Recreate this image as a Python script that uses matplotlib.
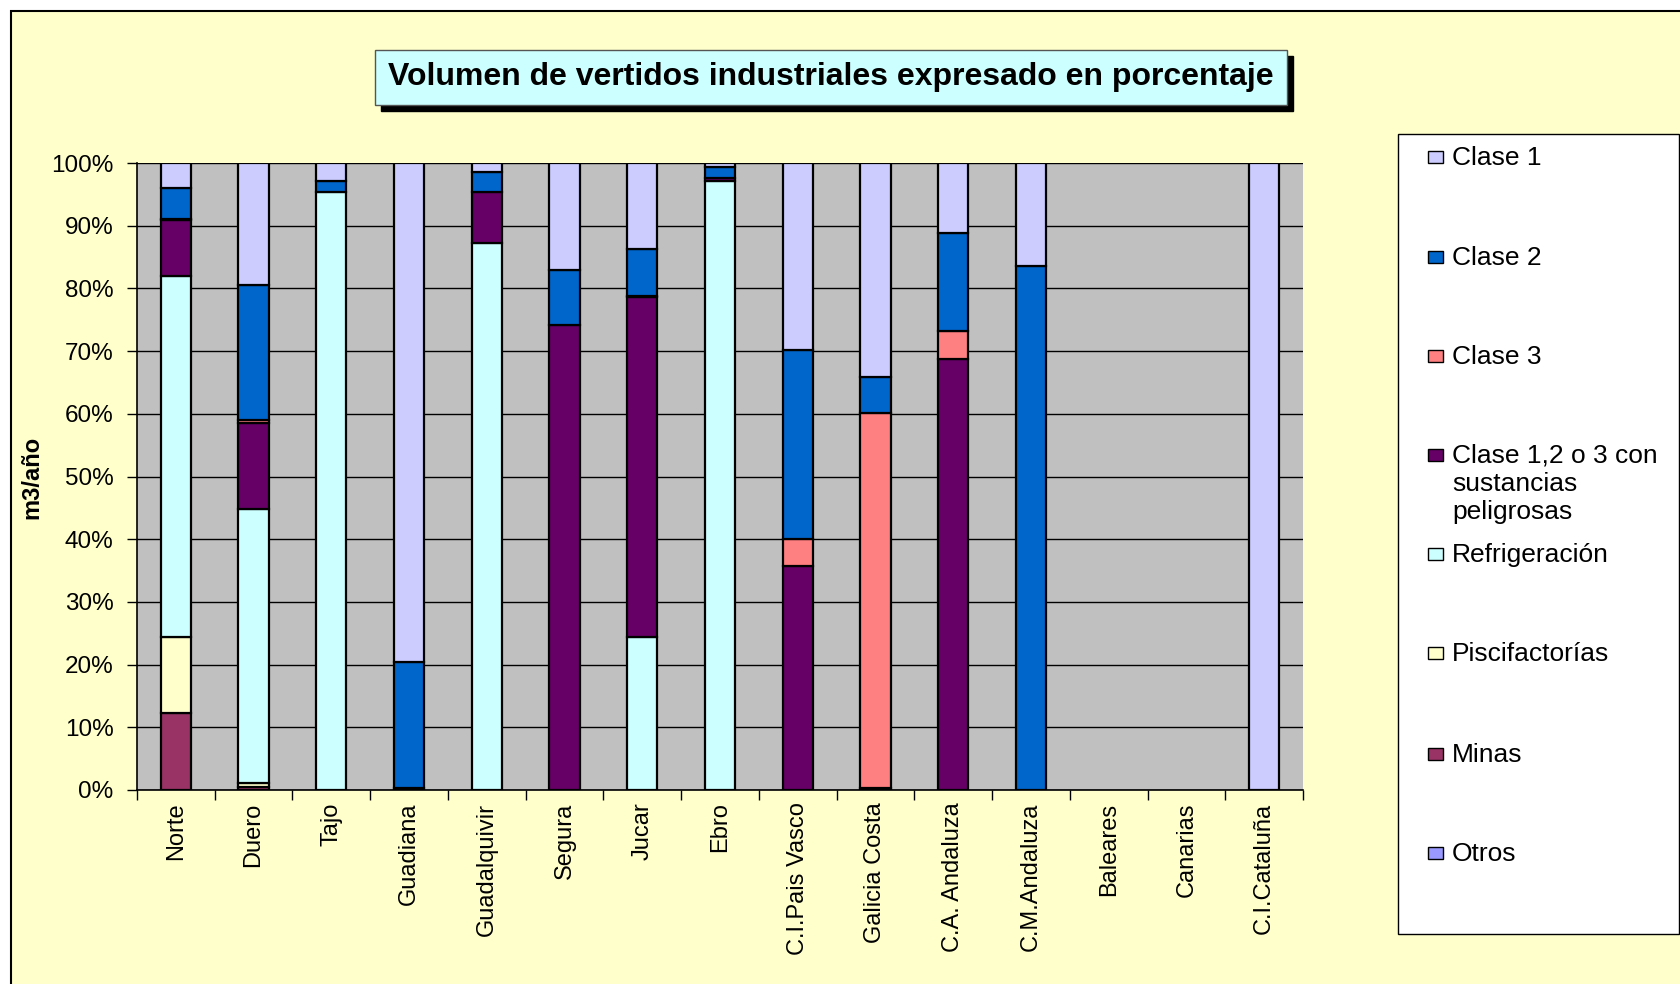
import matplotlib.pyplot as plt
import matplotlib.patches as mpatches
import numpy as np

plt.rcParams['font.family'] = ['Liberation Sans', 'DejaVu Sans']

categories = ["Norte", "Duero", "Tajo", "Guadiana", "Guadalquivir", "Segura", "Jucar",
              "Ebro", "C.I.Pais Vasco", "Galicia Costa", "C.A. Andaluza", "C.M.Andaluza",
              "Baleares", "Canarias", "C.I.Cataluña"]

# percentages, stacked bottom -> top
otros = [0, 0, 0, 0.3, 0, 0, 0, 0, 0, 0.3, 0, 0, 0, 0, 0]
minas = [12.3, 0.4, 0, 0, 0, 0, 0, 0, 0, 0, 0, 0, 0, 0, 0]
piscifactorias = [12.1, 0.7, 0, 0, 0, 0, 0, 0, 0, 0, 0, 0, 0, 0, 0]
refrigeracion = [57.6, 43.7, 95.3, 0, 87.2, 0, 24.4, 97.1, 0, 0, 0, 0, 0, 0, 0]
peligrosas = [8.9, 13.7, 0, 0, 8.2, 74.1, 54.2, 0.5, 35.8, 0, 68.7, 0, 0, 0, 0]
clase3 = [0.2, 0.5, 0, 0, 0, 0, 0.2, 0, 4.3, 59.8, 4.5, 0, 0, 0, 0]
clase2 = [4.9, 21.6, 1.8, 20.1, 3.2, 8.8, 7.5, 1.7, 30.0, 5.8, 15.7, 83.5, 0, 0, 0]
clase1 = [4.0, 19.4, 2.9, 79.6, 1.4, 17.1, 13.7, 0.7, 29.9, 34.1, 11.1, 16.5, 0, 0, 100]

series_names = ["Otros", "Minas", "Piscifactorías", "Refrigeración",
                "Clase 1,2 o 3 con\nsustancias\npeligrosas", "Clase 3", "Clase 2", "Clase 1"]
series_vals = [otros, minas, piscifactorias, refrigeracion, peligrosas, clase3, clase2, clase1]
series_colors = ["#9999FF", "#993366", "#FFFFCC", "#CCFFFF", "#660066", "#FF8080", "#0066CC", "#CCCCFF"]

W, H = 1680, 984
fig = plt.figure(figsize=(W / 100, H / 100), dpi=100, facecolor="white")

# chart area frame
fig.patches.append(mpatches.Rectangle((11 / W, -0.01), 1.0, 1 - 11 / H + 0.01,
                                      transform=fig.transFigure, facecolor="#FFFFCC",
                                      edgecolor="black", linewidth=1.5, zorder=-5))

ax = fig.add_axes([137 / W, 1 - 790 / H, 1166 / W, 627 / H])
ax.set_zorder(2)
ax.set_facecolor("#C0C0C0")

x = np.arange(len(categories))
bottom = np.zeros(len(categories))
for vals, col in zip(series_vals, series_colors):
    vals = np.array(vals, dtype=float)
    m = vals > 0
    ax.bar(x[m], vals[m], bottom=bottom[m], width=0.39, color=col,
           edgecolor="black", linewidth=1.6, zorder=3)
    bottom += vals

ax.set_xlim(-0.5, len(categories) - 0.5)
ax.set_ylim(0, 100)
ax.set_yticks(np.arange(0, 101, 10))
ax.set_yticklabels([f"{v}%" for v in range(0, 101, 10)], fontsize=17.5)
ax.yaxis.grid(True, color="black", linewidth=1.0, zorder=1)
ax.set_axisbelow(True)

ax.set_xticks(x)
ax.set_xticklabels(categories, rotation=90, fontsize=17, va="top")
ax.tick_params(axis="x", which="major", length=0, pad=9)
ax.set_xticks(np.arange(-0.5, len(categories), 1), minor=True)
ax.tick_params(axis="x", which="minor", length=7, width=1, direction="out", color="black")
ax.tick_params(axis="y", length=7, width=1, direction="out", pad=10)

for s in ["top", "right"]:
    ax.spines[s].set_visible(False)
ax.spines["left"].set_linewidth(1.2)
ax.spines["bottom"].set_linewidth(1.2)

fig.text(32 / W, 1 - 477 / H, "m3/año", rotation=90, fontsize=17, fontweight="bold",
         ha="center", va="center")

# title box with drop shadow
tx0, tx1, ty0, ty1 = 375, 1287, 50, 105
fig.patches.append(mpatches.Rectangle(((tx0 + 6) / W, 1 - (ty1 + 6) / H), (tx1 - tx0) / W, (ty1 - ty0) / H,
                                      transform=fig.transFigure, facecolor="black",
                                      edgecolor="black", zorder=1))
fig.patches.append(mpatches.Rectangle((tx0 / W, 1 - ty1 / H), (tx1 - tx0) / W, (ty1 - ty0) / H,
                                      transform=fig.transFigure, facecolor="#CCFFFF",
                                      edgecolor="#555555", linewidth=1, zorder=2))
fig.text((tx0 + tx1) / 2 / W, 1 - (ty0 + ty1) / 2 / H,
         "Volumen de vertidos industriales expresado en porcentaje",
         fontsize=23, fontweight="bold", ha="center", va="center", zorder=3)

# legend
fig.patches.append(mpatches.Rectangle((1398 / W, 1 - 934 / H), 281 / W, 800 / H,
                                      transform=fig.transFigure, facecolor="white",
                                      edgecolor="black", linewidth=1, zorder=1))
leg_y = [156, 256, 355, 454, 553, 652, 753, 852]
for yc, name, col in zip(leg_y, series_names[::-1], series_colors[::-1]):
    fig.patches.append(mpatches.Rectangle((1428 / W, 1 - (yc + 7) / H), 15 / W, 12 / H,
                                          transform=fig.transFigure, facecolor=col,
                                          edgecolor="black", linewidth=1, zorder=2))
    fig.text(1452 / W, 1 - (yc - 10) / H, name, fontsize=19, ha="left", va="top",
             linespacing=1.2, zorder=3)

fig.savefig("out.png", dpi=100, facecolor=fig.get_facecolor())
